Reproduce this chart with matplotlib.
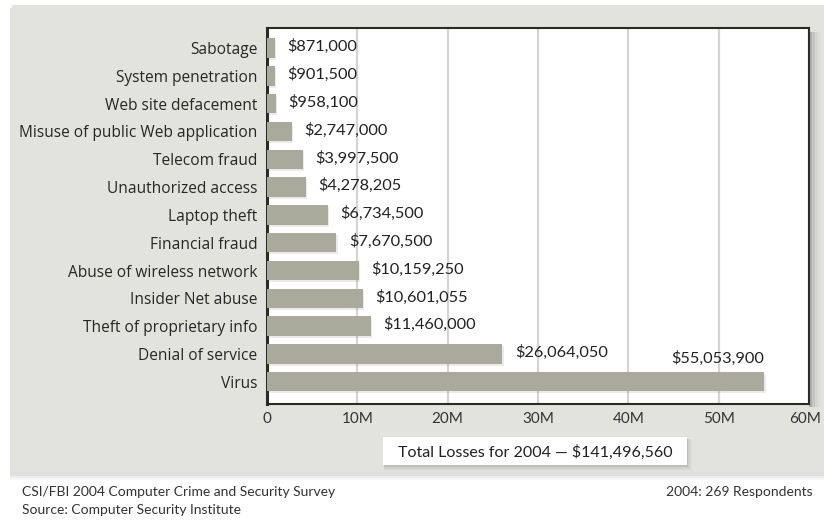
import matplotlib
matplotlib.use("Agg")
import matplotlib.pyplot as plt
from matplotlib.patches import Rectangle

categories = [
    "Sabotage",
    "System penetration",
    "Web site defacement",
    "Misuse of public Web application",
    "Telecom fraud",
    "Unauthorized access",
    "Laptop theft",
    "Financial fraud",
    "Abuse of wireless network",
    "Insider Net abuse",
    "Theft of proprietary info",
    "Denial of service",
    "Virus",
]
losses = [
    871000, 901500, 958100, 2747000, 3997500, 4278205, 6734500,
    7670500, 10159250, 10601055, 11460000, 26064050, 55053900,
]
xticks = [0, 10e6, 20e6, 30e6, 40e6, 50e6, 60e6]
xtick_labels = ["0", "10M", "20M", "30M", "40M", "50M", "60M"]
total_text = "Total Losses for 2004 \u2014 $141,496,560"
footer_left = ["CSI/FBI 2004 Computer Crime and Security Survey",
               "Source: Computer Security Institute"]
footer_right = "2004: 269 Respondents"

W, H = 824, 521
PANEL = "#e3e3de"
BAR = "#a9a99c"
INK = "#2b2b24"
LABEL_FONT = ["Open Sans", "DejaVu Sans"]
VALUE_FONT = ["Lato", "DejaVu Sans"]

fig = plt.figure(figsize=(W / 100, H / 100), dpi=100)
fig.patch.set_facecolor("white")


def rect(x, y, w, h, **kw):
    """Figure-level rectangle from pixel coords (origin top-left)."""
    r = Rectangle((x / W, 1 - (y + h) / H), w / W, h / H,
                  transform=fig.transFigure, edgecolor="none", **kw)
    fig.patches.append(r)
    return r


# grey backdrop panel with a soft bottom shadow
for i, a in enumerate([0.05, 0.04, 0.03]):
    rect(10, 8, 814, 466 + 2 * (i + 1), facecolor="black", alpha=a, zorder=0)
rect(12, 5, 812, 467, facecolor=PANEL, zorder=0.5)

# shadow to the right of the plot box
for i, a in enumerate([0.10, 0.07, 0.04, 0.02]):
    rect(809, 32, 3 + 3 * i, 375, facecolor="black", alpha=a, zorder=0.6)

ax = fig.add_axes((267 / W, 1 - 404 / H, 542 / W, 376 / H))
ax.set_facecolor("white")
ax.set_zorder(1)

y = list(range(len(categories)))
# faint shadow under each bar
ax.barh([v + 0.07 for v in y], losses, height=0.7, left=150000,
        color="#000000", alpha=0.08, zorder=2)
ax.barh(y, losses, height=0.7, color=BAR, zorder=3)

ax.set_xlim(0, 60e6)
ax.set_ylim(len(categories) - 1 + 0.8, -0.72)

# x tick labels drawn by hand so the last one can sit inside the figure
ax.set_xticks(xticks)
ax.set_xticklabels([])
for t, lbl in zip(xticks, xtick_labels):
    dx = -2.5 if t == xticks[-1] else 0
    ax.annotate(lbl, (t, 0), xycoords=("data", "axes fraction"),
                xytext=(dx, -6), textcoords="offset points",
                ha="center", va="top", fontsize=11, family=VALUE_FONT,
                color="#333333", annotation_clip=False)

ax.set_yticks(y)
ax.set_yticklabels(categories, fontsize=11.2, family=LABEL_FONT,
                   color="#262626")
ax.tick_params(length=0)
ax.tick_params(axis="y", pad=7)
ax.grid(axis="x", color="#d4d4d0", linewidth=1.6, zorder=1)
ax.set_axisbelow(True)

for s in ax.spines.values():
    s.set_color(INK)
    s.set_linewidth(1.5)
ax.spines["left"].set_linewidth(2.2)

for i, v in enumerate(losses):
    label = "${:,}".format(v)
    if i == len(losses) - 1:
        # the longest bar carries its label above its end
        ax.annotate(label, (v, i), xytext=(0, 17), textcoords="offset points",
                    ha="right", va="center", fontsize=11.8, family=VALUE_FONT,
                    color="#222222", zorder=5)
    else:
        ax.annotate(label, (v, i), xytext=(9, 1), textcoords="offset points",
                    ha="left", va="center", fontsize=11.8, family=VALUE_FONT,
                    color="#222222", zorder=5)

# total losses box under the axis
bx, by, bw, bh = 383, 437, 304, 28
for i, a in enumerate([0.08, 0.05, 0.03]):
    rect(bx + 1, by + 2, bw + 2 * i, bh + 2 * i, facecolor="black",
         alpha=a, zorder=0.7)
rect(bx, by, bw, bh, facecolor="white", zorder=0.8)
fig.text((bx + bw / 2) / W, 1 - (by + bh / 2 + 1) / H, total_text,
         ha="center", va="center", fontsize=11.5, family=VALUE_FONT,
         color="#222222")

fig.text(22 / W, 1 - 492 / H, footer_left[0], ha="left", va="center",
         fontsize=10, family=VALUE_FONT, color="#333333")
fig.text(22 / W, 1 - 510 / H, footer_left[1], ha="left", va="center",
         fontsize=10, family=VALUE_FONT, color="#333333")
fig.text(813 / W, 1 - 492 / H, footer_right, ha="right", va="center",
         fontsize=10, family=VALUE_FONT, color="#333333")

fig.savefig("out.png", dpi=100)
